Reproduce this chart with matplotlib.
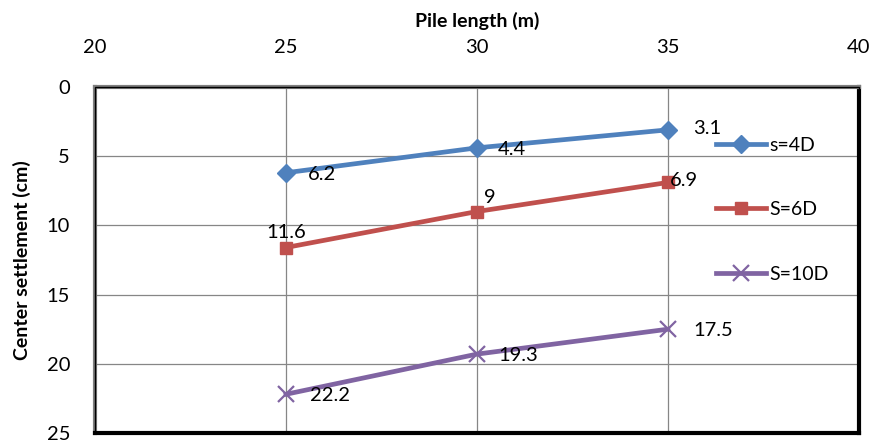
import numpy as np
import matplotlib.pyplot as plt
from matplotlib.patches import Rectangle

plt.rcParams['font.family'] = ['Lato', 'DejaVu Sans']

pile_length = [25, 30, 35]
s4d = [6.2, 4.4, 3.1]
s6d = [11.6, 9, 6.9]
s10d = [22.2, 19.3, 17.5]
labels = ['s=4D', 'S=6D', 'S=10D']

fig = plt.figure(figsize=(8.75, 4.46), dpi=100)
ax = fig.add_axes([0.1086, 0.0291, 0.873, 0.776])

ax.plot(pile_length, s4d, color='#4F81BD', lw=3.4, marker='D', ms=9, label=labels[0])
ax.plot(pile_length, s6d, color='#C0504D', lw=3.4, marker='s', ms=8.5, label=labels[1])
ax.plot(pile_length, s10d, color='#8064A2', lw=3.4, marker='x', ms=11, mew=1.6, label=labels[2])

# data labels (offsets in pixels)
offs4 = [(22, -2, 'left'), (21, -2, 'left'), (25, 1, 'left')]
offs6 = [(0, 15, 'center'), (7, 14, 'left'), (2, 2, 'left')]
offs10 = [(24, -1, 'left'), (21, -1, 'left'), (25, -1, 'left')]
for ys, offs in [(s4d, offs4), (s6d, offs6), (s10d, offs10)]:
    for x, y, (dx, dy, ha) in zip(pile_length, ys, offs):
        ax.annotate('%g' % y, xy=(x, y), xytext=(dx, dy), textcoords='offset pixels',
                    ha=ha, va='center', fontsize=14.5)

ax.set_xlim(20, 40)
ax.set_ylim(25, 0)
ax.set_xticks([20, 25, 30, 35, 40])
ax.set_yticks([0, 5, 10, 15, 20, 25])
ax.xaxis.tick_top()
ax.xaxis.set_label_position('top')
ax.tick_params(axis='x', length=0, pad=22, labelsize=14.5)
ax.tick_params(axis='y', length=0, pad=18, labelsize=14.5)
ax.set_xlabel('Pile length (m)', fontsize=14, fontweight='bold', labelpad=9)
ax.set_ylabel('Center settlement (cm)', fontsize=14, fontweight='bold', labelpad=11)
ax.grid(True, color='#868686', lw=0.9)
ax.set_axisbelow(True)

for side in ['left', 'top']:
    ax.spines[side].set_color('#7f7f7f')
    ax.spines[side].set_linewidth(3)
for side in ['right', 'bottom']:
    ax.spines[side].set_color('black')
    ax.spines[side].set_linewidth(3)
ax.add_patch(Rectangle((0, 0), 1, 1, transform=ax.transAxes, fill=False,
                       edgecolor='black', lw=1, zorder=5, clip_on=False))

ax.legend(loc='center left', bbox_to_anchor=(0.8, 0.645), frameon=False,
          fontsize=14, handlelength=2.6, handletextpad=0.15, labelspacing=2.45,
          borderpad=0)

fig.savefig('out.png', dpi=100)
